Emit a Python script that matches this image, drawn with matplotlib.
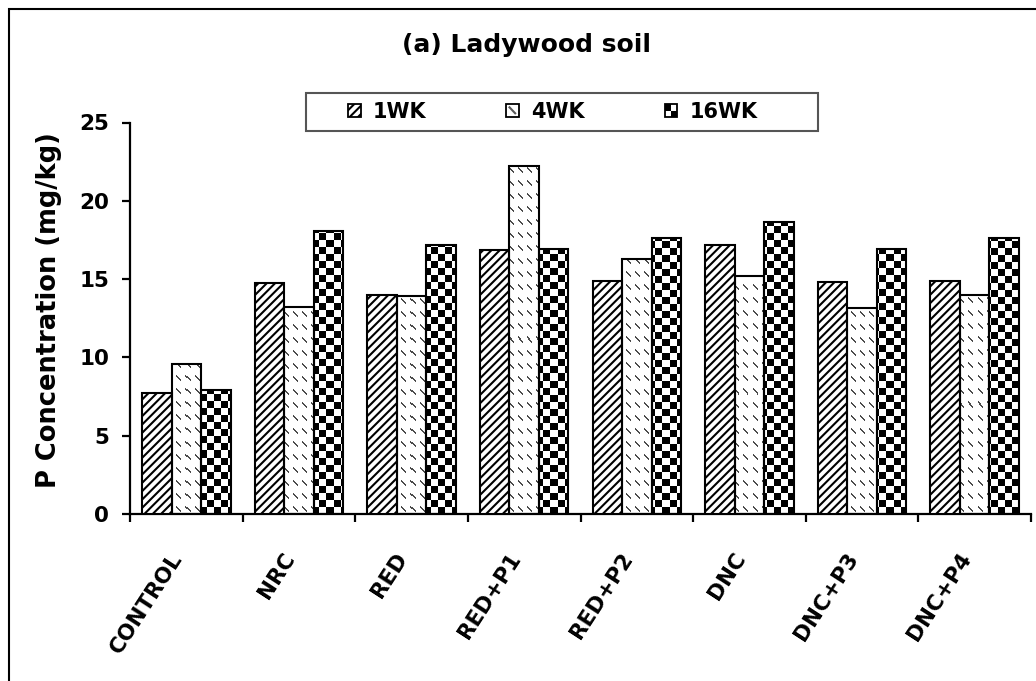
import numpy as np
import matplotlib
matplotlib.use("Agg")
import matplotlib.pyplot as plt
from matplotlib.patches import Rectangle, Patch
from matplotlib.lines import Line2D
from matplotlib.legend_handler import HandlerBase

plt.rcParams['font.family'] = 'DejaVu Sans'
plt.rcParams['font.weight'] = 'bold'
plt.rcParams['hatch.linewidth'] = 1.5

# data
treatments = ['CONTROL', 'NRC', 'RED', 'RED+P1', 'RED+P2', 'DNC', 'DNC+P3', 'DNC+P4']
series = ['1WK', '4WK', '16WK']
wk1 = [7.75, 14.75, 14.0, 16.85, 14.85, 17.2, 14.8, 14.85]
wk4 = [9.6, 13.2, 13.9, 22.25, 16.3, 15.2, 13.15, 14.0]
wk16 = [7.95, 18.1, 17.2, 16.95, 17.6, 18.65, 16.95, 17.6]

W, H = 1036, 681
fig = plt.figure(figsize=(W / 100, H / 100), dpi=100)

# axes box in pixels: x 130..1031, y 514 (0) .. 122.5 (25)
ax = fig.add_axes([130 / W, (H - 514) / H, 901 / W, 391.5 / H])
ax.set_xlim(0, len(treatments))
ax.set_ylim(0, 25)
sx = 901 / len(treatments)   # px per x unit
sy = 391.5 / 25              # px per y unit

bw = 0.262
centers = np.arange(len(treatments)) + 0.5


def checker(c, r):
    return np.where(((c // 7) + (r // 7)) % 2 == 0, 0.0, 1.0)


def dashes(c, r):
    u = c % 9
    v = r % 13
    on = (u >= 1) & (u <= 5) & ((v == 7 - u) | (v == 8 - u))
    return np.where(on, 0.3, 1.0)


def pattern_bar(x0, h, func):
    # pixel-aligned tiled fill, clipped to the bar
    rect = Rectangle((x0, 0), bw, h, facecolor='white', edgecolor='none', zorder=1)
    ax.add_patch(rect)
    c0 = int(round(x0 * sx))
    nx = int(round((x0 + bw) * sx)) - c0
    ny = max(int(round(h * sy)), 1)
    cc, rr = np.meshgrid(np.arange(c0, c0 + nx), np.arange(ny))
    img = func(cc, rr)
    im = ax.imshow(img, extent=(x0, x0 + bw, 0, h), origin='lower', cmap='gray',
                   vmin=0, vmax=1, interpolation='nearest', aspect='auto', zorder=2)
    im.set_clip_path(rect)


ax.bar(centers - bw, wk1, bw, facecolor='white', edgecolor='black', hatch='////',
       linewidth=1.5, zorder=3)
for x0, h in zip(centers - bw / 2, wk4):
    pattern_bar(x0, h, dashes)
for x0, h in zip(centers + bw / 2, wk16):
    pattern_bar(x0, h, checker)
ax.bar(centers, wk4, bw, fill=False, edgecolor='black', linewidth=1.5, zorder=3)
ax.bar(centers + bw, wk16, bw, fill=False, edgecolor='black', linewidth=1.5, zorder=3)

ax.set_xlim(0, len(treatments))
ax.set_ylim(0, 25)

for s in ['top', 'right']:
    ax.spines[s].set_visible(False)
for s in ['left', 'bottom']:
    ax.spines[s].set_linewidth(1.6)

ax.set_yticks([0, 5, 10, 15, 20, 25])
ax.tick_params(axis='y', direction='out', length=6, width=1.6, pad=9, labelsize=15.5)
ax.set_xticks(np.arange(len(treatments) + 1))
ax.set_xticklabels([])
ax.tick_params(axis='x', which='major', direction='out', length=6, width=1.6)
ax.set_xticks(centers, minor=True)
ax.set_xticklabels(treatments, minor=True, rotation=57, ha='right', va='top',
                   fontsize=15.5, fontweight='bold')
ax.tick_params(axis='x', which='minor', length=0, pad=25)
for lab in ax.get_yticklabels():
    lab.set_fontweight('bold')

ax.set_ylabel('P Concentration (mg/kg)', fontsize=18.5, fontweight='bold')
ax.yaxis.set_label_coords(-0.075, 0.52)

fig.text(527 / W, 1 - 45 / H, '(a) Ladywood soil', ha='center', va='center',
         fontsize=18, fontweight='bold')


class PatternHandler(HandlerBase):
    def __init__(self, kind):
        super().__init__()
        self.kind = kind

    def create_artists(self, legend, orig_handle, xdescent, ydescent, width, height,
                       fontsize, trans):
        x0, y0 = -xdescent, -ydescent
        arts = [Rectangle((x0, y0), width, height, facecolor='white', edgecolor='none',
                          transform=trans)]
        if self.kind == 'check':
            arts.append(Rectangle((x0, y0 + height / 2), width / 2, height / 2,
                                  facecolor='black', edgecolor='none', transform=trans))
            arts.append(Rectangle((x0 + width / 2, y0), width / 2, height / 2,
                                  facecolor='black', edgecolor='none', transform=trans))
        else:
            arts.append(Line2D([x0 + width * 0.25, x0 + width * 0.7],
                               [y0 + height * 0.75, y0 + height * 0.3],
                               color='0.35', lw=1.5, transform=trans))
        arts.append(Rectangle((x0, y0), width, height, fill=False, edgecolor='black',
                              lw=1.3, transform=trans))
        return arts


h1 = Patch(facecolor='white', edgecolor='black', hatch='////', linewidth=1.3)
h4 = Patch(facecolor='white')
h16 = Patch(facecolor='white')
fig.legend([h1, h4, h16], series, loc='center left',
           bbox_to_anchor=(348 / W, 1 - 112 / H), ncol=3, frameon=False,
           prop={'weight': 'bold', 'size': 15}, handlelength=0.6, handleheight=0.6,
           handletextpad=0.58, columnspacing=3.85, borderpad=0, borderaxespad=0,
           handler_map={h4: PatternHandler('dash'), h16: PatternHandler('check')})
fig.add_artist(Rectangle((306 / W, 1 - 131 / H), 512 / W, 38 / H, fill=False,
                         edgecolor='#555555', lw=1.5, transform=fig.transFigure))

# outer frame
fig.add_artist(Rectangle((9 / W, -0.2), 2.0, 1.2 - 9 / H, fill=False,
                         edgecolor='black', lw=1.5, transform=fig.transFigure))

fig.savefig('out.png', dpi=100)
